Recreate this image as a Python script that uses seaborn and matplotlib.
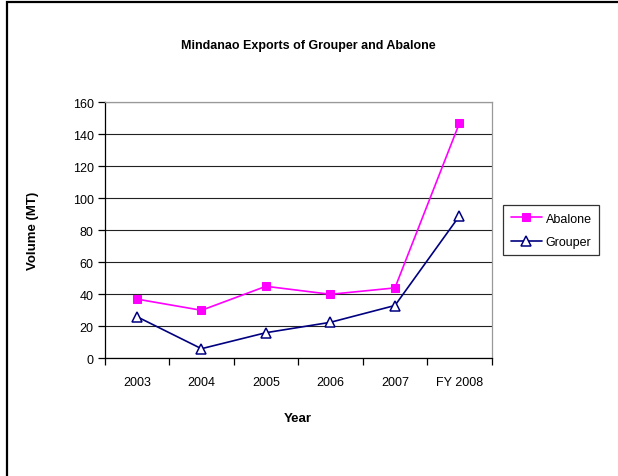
import pandas as pd
import matplotlib.pyplot as plt
import seaborn as sns
from matplotlib.patches import Rectangle
from matplotlib.ticker import FixedLocator

years = ['2003', '2004', '2005', '2006', '2007', 'FY 2008']
abalone = [37, 30, 45, 40, 44, 147]
grouper = [26, 6, 16, 22.5, 33, 89]

sns.set_theme(style="white")
plt.rcParams['font.family'] = ['Liberation Sans', 'DejaVu Sans']
plt.rcParams['text.color'] = 'black'
plt.rcParams['axes.labelcolor'] = 'black'
plt.rcParams['xtick.color'] = 'black'
plt.rcParams['ytick.color'] = 'black'

df_ab = pd.DataFrame({'Year': years, 'Volume': abalone})
df_gr = pd.DataFrame({'Year': years, 'Volume': grouper})

fig = plt.figure(figsize=(6.18, 4.77), dpi=100)
ax = fig.add_axes([104.7 / 618, 1 - 359.3 / 477, (491.7 - 104.7) / 618, (359.3 - 103.3) / 477])

sns.lineplot(data=df_ab, x='Year', y='Volume', ax=ax, color='#FF00FF', lw=1.2,
             marker='s', markersize=6, markeredgecolor='#FF00FF', label='Abalone', sort=False)
sns.lineplot(data=df_gr, x='Year', y='Volume', ax=ax, color='#000080', lw=1.2,
             marker='^', markersize=7, markerfacecolor='white', markeredgecolor='#000080',
             markeredgewidth=1.1, label='Grouper', sort=False)

ax.set_xlim(-0.5, len(years) - 0.5)
ax.set_ylim(0, 160)
ax.set_yticks(range(0, 161, 20))
ax.yaxis.grid(True, color='#222222', lw=0.8)
ax.set_axisbelow(True)

# category boundaries get the tick marks, labels sit in between
ax.xaxis.set_minor_locator(FixedLocator([i - 0.5 for i in range(len(years) + 1)]))
ax.tick_params(axis='x', which='major', length=0, pad=13, labelsize=9)
ax.tick_params(axis='x', which='minor', bottom=True, length=5, width=0.9, color='black', direction='out')
ax.tick_params(axis='y', left=True, length=5, width=0.9, color='black', direction='out',
               labelsize=9, pad=3)

for side in ['top', 'right']:
    ax.spines[side].set_color('#999999')
    ax.spines[side].set_linewidth(0.9)
for side in ['left', 'bottom']:
    ax.spines[side].set_color('black')
    ax.spines[side].set_linewidth(0.9)

ax.set_xlabel('Year', fontsize=9.5, fontweight='bold', labelpad=17)
ax.set_ylabel('Volume (MT)', fontsize=9.5, fontweight='bold', labelpad=24)
fig.text(308 / 618, 1 - 46 / 477, 'Mindanao Exports of Grouper and Abalone',
         ha='center', va='center', fontsize=9, fontweight='bold')

leg = ax.legend(loc='center left', bbox_to_anchor=(1.03, 0.5), frameon=True, fancybox=False,
                fontsize=9, handlelength=2.5, handletextpad=0.3, borderpad=0.6,
                labelspacing=0.9, borderaxespad=0)
leg.get_frame().set_edgecolor('black')
leg.get_frame().set_linewidth(0.9)

# outer chart frame
fig.patches.append(Rectangle((6.5 / 618, -0.1), 1.2, 1.1 - 2.5 / 477, transform=fig.transFigure,
                             fill=False, edgecolor='black', lw=1.6))

fig.savefig('out.png', dpi=100)
